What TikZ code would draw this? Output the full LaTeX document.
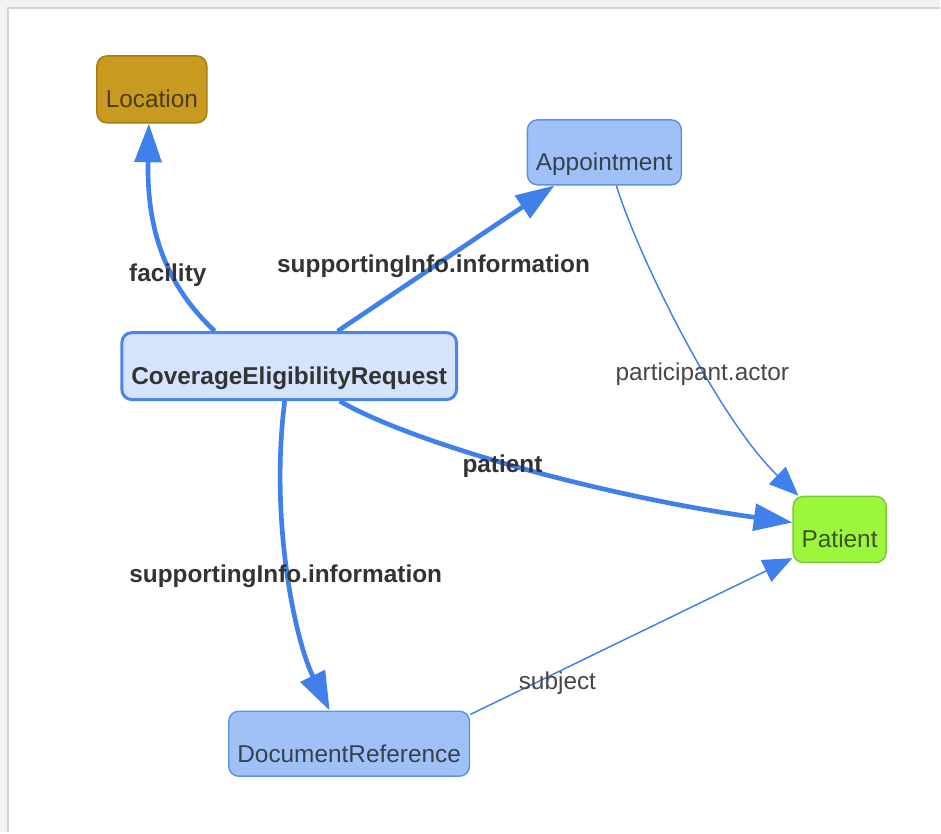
\documentclass[tikz,border=0pt]{standalone}
\usepackage{fontspec}
\setmainfont{Liberation Sans}
\usetikzlibrary{arrows.meta,calc}

\definecolor{edgeblue}{HTML}{3F80EA}
\definecolor{cerfill}{HTML}{D5E4FC}
\definecolor{cerdraw}{HTML}{4A86E8}
\definecolor{resfill}{HTML}{A0C1F8}
\definecolor{resdraw}{HTML}{5E90E8}
\definecolor{restext}{HTML}{36404F}
\definecolor{locfill}{HTML}{C99A20}
\definecolor{locdraw}{HTML}{A57E12}
\definecolor{loctext}{HTML}{4A3C15}
\definecolor{patfill}{HTML}{9CF73C}
\definecolor{patdraw}{HTML}{79C93A}
\definecolor{pattext}{HTML}{3C5228}
\definecolor{lbltext}{HTML}{333333}
\definecolor{pagegray}{HTML}{F3F3F3}
\definecolor{edgegray}{HTML}{D4D4D4}

\begin{document}
\begin{tikzpicture}[x=0.75pt,y=-0.75pt,
  font=\fontsize{18.3pt}{21pt}\selectfont,
  box/.style={draw, rounded corners=7.5pt, inner sep=0pt,
    text height=27.75pt, text depth=0pt, align=center},
  cerbox/.style={box, fill=cerfill, draw=cerdraw, line width=2.25pt,
    text=lbltext, font=\fontsize{18.3pt}{21pt}\selectfont\bfseries},
  resbox/.style={box, fill=resfill, draw=resdraw, line width=1.1pt, text=restext},
  locbox/.style={box, fill=locfill, draw=locdraw, line width=1.1pt, text=loctext},
  patbox/.style={box, fill=patfill, draw=patdraw, line width=1.1pt, text=pattext},
  relstrong/.style={draw=edgeblue, line width=3.5pt,
    -{Triangle[length=29pt,width=20pt]}},
  relweak/.style={draw=edgeblue, line width=1.1pt,
    -{Triangle[length=22pt,width=18pt]}},
  lblbold/.style={anchor=base, inner sep=0pt, text=lbltext,
    font=\fontsize{18.3pt}{21pt}\selectfont\bfseries},
  lblplain/.style={anchor=base, inner sep=0pt, text=lbltext!90!white}
]
% page and panel
\fill[pagegray] (0,0) rectangle (941,833);
\fill[white] (8,8) rectangle (941,833);
\draw[edgegray, line width=1.5pt] (8,833) -- (8,8) -- (941,8);
\useasboundingbox (0,0) rectangle (941,833);

% resources
\node[locbox, minimum width=82.5pt, minimum height=50.25pt] (loc) at (152,89.5) {Location};
\node[resbox, minimum width=115.5pt, minimum height=48.75pt] (appt) at (605,152.5) {Appointment};
\node[cerbox, minimum width=251.25pt, minimum height=50.25pt] (cer) at (289.5,366.5) {CoverageEligibilityRequest};
\node[patbox, minimum width=69.75pt, minimum height=49.5pt] (pat) at (840.5,530) {Patient};
\node[resbox, minimum width=180.75pt, minimum height=48.75pt] (doc) at (349.5,744.5) {DocumentReference};

% references
\draw[relstrong] ($(cer.north)+(-74.5,0)$) .. controls (160,280) and (147,220) .. ($(loc.south)+(-3,0)$);
\draw[relstrong] ($(cer.north)+(48.5,0)$) -- ($(appt.south)+(-50,0)$);
\draw[relstrong] ($(cer.south)+(50.5,0)$) .. controls (415,445) and (610,498) .. ($(pat.west)+(0,-7)$);
\draw[relstrong] ($(cer.south)+(-4.5,0)$) .. controls (270,520) and (295,640) .. ($(doc.north)+(-19.5,0)$);
\draw[relweak] ($(appt.south)+(12,0)$) .. controls (640,260) and (720,420) .. ($(pat.north west)+(6,0)$);
\draw[relweak] ($(doc.north east)+(0,4)$) -- ($(pat.south west)+(0,-5)$);

% reference labels
\node[lblbold] (lfac) at (168,282) {facility};
\node[lblbold] (lsup1) at (434,273) {supportingInfo.information};
\node[lblplain] (lpart) at (703,381) {participant.actor};
\node[lblbold] (lpat) at (503,473) {patient};
\node[lblbold] (lsup2) at (286,583) {supportingInfo.information};
\node[lblplain] (lsubj) at (558,690) {subject};
\end{tikzpicture}
\end{document}
